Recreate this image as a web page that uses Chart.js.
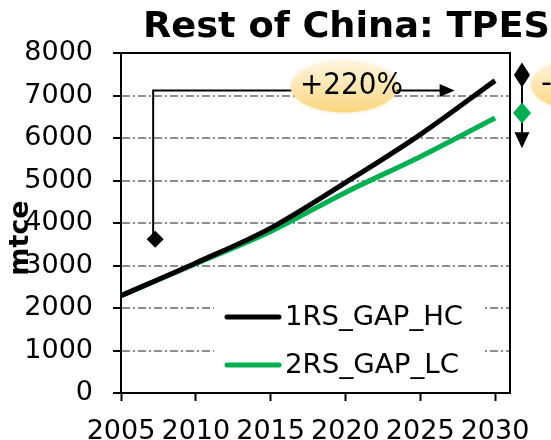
<!DOCTYPE html>
<html>
<head>
<meta charset="utf-8">
<title>Rest of China: TPES</title>
<script src="https://cdn.jsdelivr.net/npm/chart.js@4.4.1/dist/chart.umd.min.js"></script>
<style>
  body { margin: 0; background: #fff; }
  #box { width: 551px; height: 440px; }
</style>
</head>
<body>
<div id="box"><canvas id="grafico" width="551" height="440"></canvas></div>
<script>
// Dados do gráfico (mtce)
const anos = [2005, 2010, 2015, 2020, 2025, 2030];
const serieHC = [2290, 3060, 3880, 4950, 6080, 7350];
const serieLC = [2290, 3040, 3800, 4720, 5560, 6470];
const nomesSeries = ['1RS_GAP_HC', '2RS_GAP_LC'];
const coresSeries = ['#000000', '#00B050'];
const ticksX = [2005, 2010, 2015, 2020, 2025, 2030];
const ticksY = [0, 1000, 2000, 3000, 4000, 5000, 6000, 7000, 8000];
const titulo = 'Rest of China: TPES';
const rotuloY = 'mtce';
const rotuloAumento = '+220%';
const rotuloQueda = '-12%';

const FONTE = "'DejaVu Sans', Verdana, sans-serif";

// texto com largura forçada (esticado na horizontal)
function textoEsticado(ctx, txt, x, y, largura) {
    const w = ctx.measureText(txt).width;
    ctx.save();
    ctx.translate(x, y);
    ctx.scale(largura / w, 1);
    ctx.fillText(txt, 0, 0);
    ctx.restore();
}

function losango(ctx, cx, cy, w, h, cor) {
    ctx.beginPath();
    ctx.moveTo(cx, cy - h / 2);
    ctx.lineTo(cx + w / 2, cy);
    ctx.lineTo(cx, cy + h / 2);
    ctx.lineTo(cx - w / 2, cy);
    ctx.closePath();
    ctx.fillStyle = cor;
    ctx.fill();
}

function ponta(ctx, x, y, dx, dy, comp, larg) {
    // ponta de seta com vértice em (x, y), apontando na direção (dx, dy)
    const px = -dy, py = dx;
    ctx.beginPath();
    ctx.moveTo(x, y);
    ctx.lineTo(x - dx * comp + px * larg / 2, y - dy * comp + py * larg / 2);
    ctx.lineTo(x - dx * comp - px * larg / 2, y - dy * comp - py * larg / 2);
    ctx.closePath();
    ctx.fillStyle = '#000';
    ctx.fill();
}

function elipse(ctx, cx, cy, w, h) {
    const g = ctx.createLinearGradient(0, cy - h / 2, 0, cy + h / 2);
    g.addColorStop(0, '#FEF5DE');
    g.addColorStop(1, '#FBD680');
    ctx.save();
    ctx.shadowColor = 'rgba(251, 214, 128, 0.6)';
    ctx.shadowBlur = 4;
    ctx.beginPath();
    ctx.ellipse(cx, cy, w / 2, h / 2, 0, 0, Math.PI * 2);
    ctx.fillStyle = g;
    ctx.fill();
    ctx.restore();
}

// título, rótulo do eixo, moldura, legenda e setas
const extras = {
    id: 'extras',
    afterDraw(chart) {
        const ctx = chart.ctx;
        const a = chart.chartArea;
        const sx = chart.scales.x, sy = chart.scales.y;
        ctx.save();

        // moldura da área do gráfico
        ctx.strokeStyle = '#000';
        ctx.lineWidth = 2;
        ctx.strokeRect(a.left, a.top, a.right - a.left, a.bottom - a.top);

        // título
        ctx.fillStyle = '#000';
        ctx.font = 'bold 35px ' + FONTE;
        ctx.textAlign = 'left';
        ctx.textBaseline = 'alphabetic';
        textoEsticado(ctx, titulo, 143, 37, 407);

        // rótulo do eixo y
        ctx.save();
        ctx.translate(28, 238);
        ctx.rotate(-Math.PI / 2);
        ctx.font = 'bold 27px ' + FONTE;
        ctx.textAlign = 'center';
        ctx.fillText(rotuloY, 0, 0);
        ctx.restore();

        // legenda
        ctx.fillStyle = '#fff';
        ctx.fillRect(214, 290, 271, 95);
        ctx.font = '26px ' + FONTE;
        ctx.textAlign = 'left';
        ctx.textBaseline = 'middle';
        ctx.lineCap = 'round';
        nomesSeries.forEach((nome, i) => {
            const yy = 317 + i * 48;
            ctx.strokeStyle = coresSeries[i];
            ctx.lineWidth = 5;
            ctx.beginPath();
            ctx.moveTo(227, yy);
            ctx.lineTo(279, yy);
            ctx.stroke();
            ctx.fillStyle = '#000';
            textoEsticado(ctx, nome, 285, yy + 1, i === 0 ? 178 : 174);
        });
        ctx.lineCap = 'butt';

        // seta de crescimento 2005 -> 2030
        const x0 = sx.getPixelForValue(2007.15);
        const y0 = sy.getPixelForValue(3620);
        const yTopo = sy.getPixelForValue(7120);
        const xFim = sx.getPixelForValue(2027.3);
        ctx.strokeStyle = '#000';
        ctx.lineWidth = 2;
        ctx.beginPath();
        ctx.moveTo(x0, y0);
        ctx.lineTo(x0, yTopo);
        ctx.lineTo(xFim - 12, yTopo);
        ctx.stroke();
        ponta(ctx, xFim, yTopo, 1, 0, 15, 13);
        losango(ctx, x0 + 2, y0, 17, 17, '#000');

        // rótulo +220%
        const cx = sx.getPixelForValue(2019.9);
        const cy = sy.getPixelForValue(7200);
        elipse(ctx, cx, cy, 106, 51);
        ctx.fillStyle = '#000';
        ctx.font = '30px ' + FONTE;
        ctx.textAlign = 'left';
        textoEsticado(ctx, rotuloAumento, cx - 44, cy - 1, 103);

        // diferença entre os cenários em 2030 (fora da área do gráfico)
        const xm = sx.getPixelForValue(2031.8);
        const yHC = sy.getPixelForValue(7480);
        const yLC = sy.getPixelForValue(6590);
        const yPonta = sy.getPixelForValue(5760);
        ctx.beginPath();
        ctx.moveTo(xm, yHC);
        ctx.lineTo(xm, yPonta - 10);
        ctx.stroke();
        ponta(ctx, xm, yPonta, 0, 1, 16, 15);
        losango(ctx, xm, yHC, 16, 25, '#000');
        losango(ctx, xm, yLC, 18, 21, coresSeries[1]);

        const cx2 = xm + 62;
        const cy2 = sy.getPixelForValue(7250);
        elipse(ctx, cx2, cy2, 106, 51);
        ctx.fillStyle = '#000';
        textoEsticado(ctx, rotuloQueda, cx2 - 43, cy2 - 1, 78);

        ctx.restore();
    }
};

function criarGrafico() {
    const ctx = document.getElementById('grafico').getContext('2d');
    new Chart(ctx, {
        type: 'line',
        data: {
            datasets: [
                {
                    label: nomesSeries[0],
                    data: anos.map((a, i) => ({ x: a, y: serieHC[i] })),
                    borderColor: coresSeries[0],
                    borderWidth: 5,
                    pointRadius: 0,
                    cubicInterpolationMode: 'monotone'
                },
                {
                    label: nomesSeries[1],
                    data: anos.map((a, i) => ({ x: a, y: serieLC[i] })),
                    borderColor: coresSeries[1],
                    borderWidth: 5,
                    pointRadius: 0,
                    cubicInterpolationMode: 'monotone'
                }
            ]
        },
        options: {
            responsive: false,
            animation: false,
            layout: { padding: { top: 53, right: 41, left: 0, bottom: 0 } },
            plugins: {
                legend: { display: false },
                title: { display: false },
                tooltip: { enabled: false }
            },
            scales: {
                x: {
                    type: 'linear',
                    min: 2005,
                    max: 2031,
                    afterBuildTicks: s => { s.ticks = ticksX.map(v => ({ value: v })); },
                    afterFit: s => { s.height = 47; },
                    grid: {
                        drawOnChartArea: false,
                        drawTicks: true,
                        tickLength: 8,
                        tickColor: '#000',
                        tickWidth: 2
                    },
                    border: { color: '#000', width: 2 },
                    ticks: {
                        color: '#000',
                        font: { family: FONTE, size: 27 },
                        padding: 15,
                        maxRotation: 0,
                        autoSkip: false,
                        callback: v => String(v)
                    }
                },
                y: {
                    min: 0,
                    max: 8000,
                    afterBuildTicks: s => { s.ticks = ticksY.map(v => ({ value: v })); },
                    afterFit: s => { s.width = 121; },
                    grid: {
                        color: '#8c8c8c',
                        lineWidth: 2,
                        tickLength: 8,
                        tickColor: '#000',
                        tickWidth: 2,
                        tickBorderDash: []
                    },
                    border: { color: '#000', width: 2, dash: [8, 3, 2, 3] },
                    ticks: {
                        color: '#000',
                        font: { family: FONTE, size: 27 },
                        padding: 20,
                        callback: v => String(v)
                    }
                }
            }
        },
        plugins: [extras]
    });
}

document.addEventListener('DOMContentLoaded', () => {
    criarGrafico();
});
</script>
</body>
</html>
